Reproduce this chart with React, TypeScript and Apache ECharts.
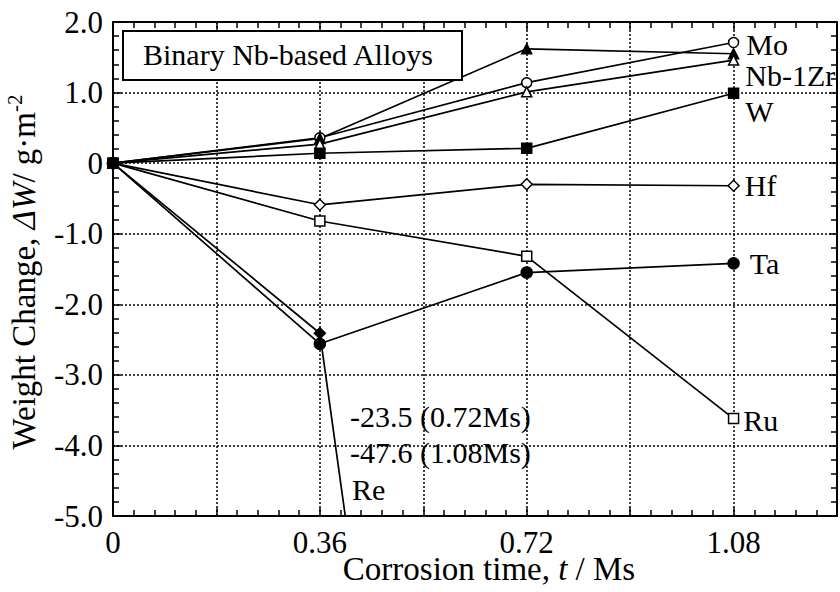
import React, { useEffect, useRef } from "react";
import * as echarts from "echarts";

const FONT = '"Liberation Serif", "Times New Roman", Times, serif';

const times = [0, 0.36, 0.72, 1.08];
const moValues = [0, 0.36, 1.14, 1.71];
const nbZrFilledValues = [0, 0.35, 1.62, 1.55];
const nbZrOpenValues = [0, 0.27, 1.01, 1.46];
const wValues = [0, 0.14, 0.21, 0.99];
const hfValues = [0, -0.59, -0.3, -0.32];
const ruValues = [0, -0.82, -1.32, -3.62];
const taValues = [0, -2.56, -1.55, -1.42];
const reValues = [0, -2.41, -23.5, -47.6];

const xTicks = { min: 0, max: 1.26, interval: 0.18 };
const yTicks = { min: -5, max: 2, interval: 1 };

type SeriesDef = {
  name: string;
  values: number[];
  symbol: string;
  filled: boolean;
  size: number;
  label?: string;
  offset?: [number, number];
};

const seriesDefs: SeriesDef[] = [
  { name: "Mo", values: moValues, symbol: "circle", filled: false, size: 10, label: "Mo", offset: [7, 2] },
  { name: "Nb-1Zr (filled)", values: nbZrFilledValues, symbol: "triangle", filled: true, size: 10 },
  { name: "Nb-1Zr", values: nbZrOpenValues, symbol: "triangle", filled: false, size: 10, label: "Nb-1Zr", offset: [6, 15] },
  { name: "Hf", values: hfValues, symbol: "diamond", filled: false, size: 11, label: "Hf", offset: [5, 0] },
  { name: "Ru", values: ruValues, symbol: "rect", filled: false, size: 10, label: "Ru", offset: [4, 2] },
  { name: "Re", values: reValues, symbol: "diamond", filled: true, size: 11 },
  { name: "Ta", values: taValues, symbol: "circle", filled: true, size: 11, label: "Ta", offset: [10, 0] },
  { name: "W", values: wValues, symbol: "rect", filled: true, size: 10, label: "W", offset: [6, 18] },
];

function buildSeries() {
  return seriesDefs.map((d) => ({
    type: "line",
    name: d.name,
    symbol: d.symbol,
    symbolSize: d.size,
    showAllSymbol: true,
    clip: true,
    lineStyle: { color: "#000", width: 1.7 },
    itemStyle: {
      color: d.filled ? "#000" : "#fff",
      borderColor: "#000",
      borderWidth: 1.5,
    },
    emphasis: { disabled: true },
    data: times.map((t, i) => {
      const item: any = { value: [t, d.values[i]] };
      if (d.label && i === times.length - 1) {
        item.label = {
          show: true,
          formatter: d.label,
          position: "right",
          distance: 0,
          offset: d.offset || [0, 0],
          color: "#000",
          fontSize: 30,
          lineHeight: 24,
          fontFamily: FONT,
        };
      }
      return item;
    }),
  }));
}

const gridLine = { show: true, lineStyle: { color: "#000", width: 1.5, type: [2, 2] } };

export default function App() {
  const ref = useRef<HTMLDivElement>(null);
  useEffect(() => {
    if (!ref.current) return;
    const chart = echarts.init(ref.current, undefined, { renderer: "svg" });
    const xLabelFmt = (v: number) => {
      const k = Math.round(v / xTicks.interval);
      if (k % 2 === 1) return "";
      return v === 0 ? "0" : v.toFixed(2);
    };
    const axisCommonX = {
      type: "value",
      min: xTicks.min,
      max: xTicks.max,
      interval: xTicks.interval,
      axisLine: { show: true, onZero: false, lineStyle: { color: "#000", width: 2 } },
      axisTick: { show: true, inside: true, length: 8, lineStyle: { color: "#000", width: 1.5 } },
      minorTick: { show: true, splitNumber: 5, length: 6, lineStyle: { color: "#000", width: 1.5 } },
    };
    const axisCommonY = {
      type: "value",
      min: yTicks.min,
      max: yTicks.max,
      interval: yTicks.interval,
      axisLine: { show: true, onZero: false, lineStyle: { color: "#000", width: 2 } },
      axisTick: { show: true, inside: true, length: 8, lineStyle: { color: "#000", width: 1.5 } },
      minorTick: { show: true, splitNumber: 5, length: 6, lineStyle: { color: "#000", width: 1.5 } },
    };
    chart.setOption({
      animation: false,
      backgroundColor: "#fff",
      grid: { left: 113, right: 1, top: 22, bottom: 76, containLabel: false },
      xAxis: [
        {
          ...axisCommonX,
          position: "bottom",
          splitLine: gridLine,
          axisLabel: {
            show: true,
            margin: 14,
            color: "#000",
            fontSize: 31,
            lineHeight: 24,
            fontFamily: FONT,
            formatter: xLabelFmt,
          },
        },
        {
          ...axisCommonX,
          position: "top",
          splitLine: { show: false },
          axisLabel: { show: false },
        },
      ],
      yAxis: [
        {
          ...axisCommonY,
          position: "left",
          splitLine: gridLine,
          axisLabel: {
            show: true,
            margin: 10,
            color: "#000",
            fontSize: 31,
            fontFamily: FONT,
            formatter: (v: number) => (v === 0 ? "0" : v.toFixed(1)),
          },
        },
        {
          ...axisCommonY,
          position: "right",
          splitLine: { show: false },
          axisLabel: { show: false },
        },
      ],
      series: buildSeries(),
      graphic: [
        {
          type: "rect",
          shape: { x: 123, y: 31, width: 339, height: 49 },
          style: { fill: "#fff", stroke: "#000", lineWidth: 2 },
          z: 100,
        },
        {
          type: "text",
          x: 143,
          y: 54,
          z: 101,
          style: {
            text: "Binary Nb-based Alloys",
            fontSize: 30,
            fontFamily: FONT,
            fill: "#000",
            align: "left",
            verticalAlign: "middle",
          },
        },
        {
          type: "text",
          x: 350,
          y: 416,
          z: 101,
          style: {
            text: "-23.5 (0.72Ms)",
            fontSize: 30,
            fontFamily: FONT,
            fill: "#000",
            align: "left",
            verticalAlign: "middle",
          },
        },
        {
          type: "text",
          x: 350,
          y: 452,
          z: 101,
          style: {
            text: "-47.6 (1.08Ms)",
            fontSize: 30,
            fontFamily: FONT,
            fill: "#000",
            align: "left",
            verticalAlign: "middle",
          },
        },
        {
          type: "text",
          x: 352,
          y: 489,
          z: 101,
          style: {
            text: "Re",
            fontSize: 30,
            fontFamily: FONT,
            fill: "#000",
            align: "left",
            verticalAlign: "middle",
          },
        },
        {
          type: "text",
          x: 489,
          y: 569,
          z: 101,
          style: {
            text: "{a|Corrosion time, }{i|t}{a| / Ms}",
            fill: "#000",
            align: "center",
            verticalAlign: "middle",
            rich: {
              a: { fontSize: 33, fontFamily: FONT, fill: "#000", lineHeight: 26 },
              i: { fontSize: 33, fontFamily: FONT, fontStyle: "italic", fill: "#000", lineHeight: 26 },
            },
          },
        },
        {
          type: "text",
          x: 24,
          y: 272,
          rotation: Math.PI / 2,
          z: 101,
          style: {
            text: "{a|Weight Change, }{i|ΔW}{a|/ g·m}{s|-2}",
            fill: "#000",
            align: "center",
            verticalAlign: "middle",
            rich: {
              a: { fontSize: 33, fontFamily: FONT, fill: "#000", lineHeight: 40 },
              i: { fontSize: 33, fontFamily: FONT, fontStyle: "italic", fill: "#000", lineHeight: 40 },
              s: { fontSize: 21, fontFamily: FONT, fill: "#000", lineHeight: 21, verticalAlign: "top" },
            },
          },
        },
      ],
    });
    return () => chart.dispose();
  }, []);
  return <div ref={ref} style={{ width: 840, height: 592, position: "absolute", left: 0, top: 0 }} />;
}
